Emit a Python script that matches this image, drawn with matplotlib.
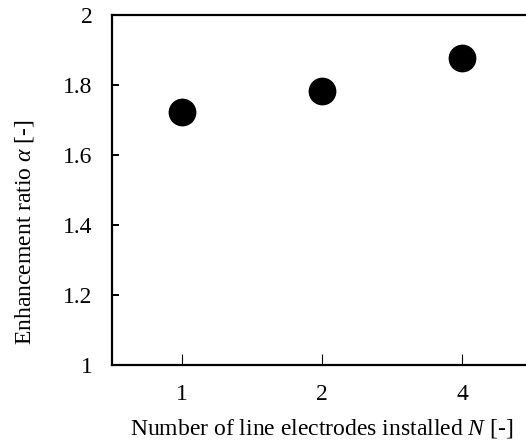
import matplotlib
matplotlib.use("Agg")
from matplotlib import pyplot as plt

# values
N_LABELS = ["1", "2", "4"]
ALPHA = [1.722, 1.784, 1.877]

plt.rcParams["font.family"] = "Liberation Serif"
plt.rcParams["mathtext.fontset"] = "custom"
plt.rcParams["mathtext.rm"] = "Liberation Serif"
plt.rcParams["mathtext.it"] = "Liberation Serif:italic"

fig = plt.figure(figsize=(5.26, 4.41), dpi=100)
ax = fig.add_axes([112 / 526, 76 / 441, 420 / 526, 350 / 441])

xs = list(range(len(N_LABELS)))
ax.plot(xs, ALPHA, "o", color="black", markersize=19, clip_on=False)

ax.set_xlim(-0.5, len(N_LABELS) - 0.5)
ax.set_ylim(1, 2)
ax.set_xticks(xs)
ax.set_xticklabels(N_LABELS)
ax.set_yticks([1, 1.2, 1.4, 1.6, 1.8, 2])
ax.set_yticklabels(["1", "1.2", "1.4", "1.6", "1.8", "2"])

for s in ax.spines.values():
    s.set_linewidth(1.6)
ax.tick_params(axis="y", direction="in", length=5, width=1.4, pad=14, labelsize=17)
ax.tick_params(axis="x", direction="in", length=8, width=0.8, pad=14, labelsize=17)

ax.set_xlabel(r"Number of line electrodes installed $N$ [-]", fontsize=17, labelpad=8)
ax.set_ylabel(r"Enhancement ratio $\alpha$ [-]", fontsize=17)
# the axis title sits a bit below the middle of the axis
ax.yaxis.set_label_coords(-0.18, 0.38)

fig.savefig("out.png", dpi=100)
